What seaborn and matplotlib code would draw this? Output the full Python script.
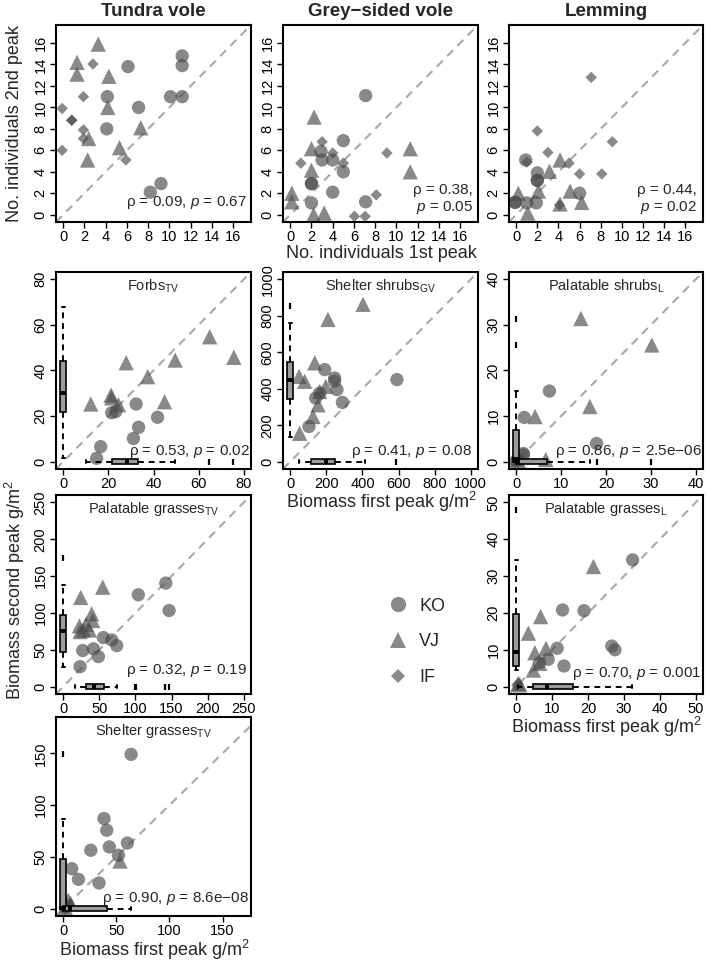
import numpy as np
import pandas as pd
import matplotlib
matplotlib.use("Agg")
import matplotlib.pyplot as plt
import seaborn as sns
from matplotlib.lines import Line2D

sns.set_theme(style="white")
plt.rcParams["font.family"] = ["Liberation Sans", "DejaVu Sans"]
plt.rcParams["mathtext.fontset"] = "custom"
plt.rcParams["mathtext.rm"] = "Liberation Sans"
plt.rcParams["mathtext.it"] = "Liberation Sans:italic"
plt.rcParams["mathtext.bf"] = "Liberation Sans:bold"

# ---------------- data (first peak = x, second peak = y) ----------------
groups = ["KO", "VJ", "IF"]

tundra_ko_1 = [6.1, 11.2, 11.2, 4.15, 10.1, 11.2, 7.1, 4.1, 8.2, 9.2]
tundra_ko_2 = [13.8, 14.8, 13.9, 11.0, 11.0, 11.0, 10.0, 8.0, 2.1, 2.9]
tundra_vj_1 = [3.3, 1.3, 1.3, 4.3, 4.2, 7.3, 2.4, 5.3, 2.3]
tundra_vj_2 = [15.9, 14.2, 13.1, 12.9, 10.0, 8.1, 7.1, 6.25, 5.1]
tundra_if_1 = [2.8, 1.9, -0.1, 0.8, 0.8, 1.9, 1.9, -0.1, 5.9]
tundra_if_2 = [14.05, 11.0, 9.9, 8.8, 8.8, 7.9, 7.1, 6.0, 5.1]

grey_ko_1 = [7.1, 5.0, 2.9, 3.0, 4.0, 5.0, 2.0, 2.0, 4.0, 2.0, 7.1]
grey_ko_2 = [11.1, 6.9, 5.9, 5.1, 5.1, 4.0, 2.9, 2.9, 2.1, 1.1, 1.2]
grey_vj_1 = [2.25, 2.0, 2.0, 0.15, 0.15, 2.2, 3.2, 11.3, 11.3]
grey_vj_2 = [9.1, 6.15, 4.15, 2.0, 1.2, 0.0, 0.15, 6.15, 4.0]
grey_if_1 = [3.0, 4.0, 5.0, 1.0, 6.05, 7.05, 8.1, 9.1]
grey_if_2 = [6.8, 5.75, 4.8, 4.8, -0.15, -0.15, 1.85, 5.75]

lem_ko_1 = [0.9, 2.0, 2.0, 2.0, 6.0, -0.1, -0.1, 1.0, 1.9]
lem_ko_2 = [5.1, 3.9, 3.2, 3.2, 2.0, 1.15, 1.15, 1.1, 1.1]
lem_vj_1 = [4.15, 3.15, 2.1, 5.1, 6.2, 0.2, 1.1, 4.15]
lem_vj_2 = [5.1, 4.05, 2.2, 2.2, 1.15, 2.0, 0.15, 1.0]
lem_if_1 = [7.1, 2.0, 9.1, 3.0, 5.0, 1.0, 6.0, 8.1, 4.1]
lem_if_2 = [12.8, 7.8, 6.8, 5.8, 4.8, 4.9, 3.8, 3.8, 0.9]

forbs_ko_1 = [32.3, 41.8, 33.4, 31.1, 16.6, 14.8, 23.3, 21.5]
forbs_ko_2 = [25.3, 19.5, 15.1, 10.2, 6.6, 1.5, 22.0, 21.5]
forbs_vj_1 = [64.9, 27.9, 49.6, 75.6, 37.4, 21.2, 12.2, 44.9, 21.5, 24.5]
forbs_vj_2 = [54.8, 43.4, 44.6, 45.8, 37.3, 29.2, 25.3, 26.3, 28.0, 25.0]

sshrub_ko_1 = [191, 246, 246, 259, 163, 141, 289, 104, 591]
sshrub_ko_2 = [505, 459, 441, 395, 376, 349, 325, 193, 450]
sshrub_vj_1 = [403, 209, 136, 49, 80, 197, 163, 154, 126, 52]
sshrub_vj_2 = [863, 780, 542, 468, 441, 413, 385, 312, 248, 156]

pshrub_ko_1 = [7.4, 1.8, 17.9, 1.6, 1.6, 0.3, 0.0]
pshrub_ko_2 = [15.5, 9.7, 4.0, 1.8, 1.5, 0.5, 0.2]
pshrub_vj_1 = [14.4, 30.2, 16.4, 4.2, 6.6, 0.5, 0.1]
pshrub_vj_2 = [31.4, 25.6, 12.1, 9.9, 0.5, 0.2, 0.6]
pshrub_if_1 = [0.2, 0.5, 0.0]
pshrub_if_2 = [0.1, 0.3, 0.4]

pgrassTV_ko_1 = [142, 104, 146.6, 55.6, 67.2, 74.1, 41.8, 27, 48.7, 23.3]
pgrassTV_ko_2 = [140.5, 124.6, 103.3, 66.6, 63.4, 55.7, 51.2, 49, 40.7, 27.1]
pgrassTV_vj_1 = [54.7, 24.2, 39.4, 40.8, 31.6, 22.4, 36.2, 23.3, 27.9]
pgrassTV_vj_2 = [135, 121, 98.8, 89.7, 84.7, 82.4, 77, 74.7, 77]

pgrassL_ko_1 = [32.4, 12.9, 18.9, 26.6, 27.5, 11.4, 8.9, 13.3, 6.5]
pgrassL_ko_2 = [34.4, 20.8, 20.6, 11.0, 10.0, 10.4, 7.4, 5.6, 6.5]
pgrassL_vj_1 = [21.5, 6.8, 3.4, 5.2, 8.3, 6.6, 4.8, 0.6, 1.0]
pgrassL_vj_2 = [32.6, 19.0, 14.5, 9.2, 10.4, 6.3, 4.5, 0.9, 0.5]
pgrassL_if_1 = [0.2, 0.5]
pgrassL_if_2 = [0.3, 0.8]

sgrass_ko_1 = [63.9, 38.4, 41, 60.4, 43.4, 26, 52, 8, 14.3, 33.7, 2, 4]
sgrass_ko_2 = [149, 87, 75.7, 63.4, 59.6, 56.4, 51.5, 38.6, 28.3, 24.8, 1, 3]
sgrass_vj_1 = [53.5, 4.8, 7, 2]
sgrass_vj_2 = [46, 8, 5, 1]
sgrass_if_1 = [1, 3]
sgrass_if_2 = [0.5, 2]

# boxplot summaries: whisker low, q1, median, q3, whisker high ; outliers
forbs_box_x = [10.1, 21.8, 28.4, 33.3, 49.6]
forbs_out_x = [64.4, 75.3]
forbs_box_y = [1.5, 22, 30, 44, 68]
forbs_out_y = []
sshrub_box_x = [49, 113, 196, 247, 412]
sshrub_out_x = [584]
sshrub_box_y = [138, 343, 450, 545, 762]
sshrub_out_y = [854]
pshrub_box_x = [0, 0, 0.5, 6.8, 16.4]
pshrub_out_x = [17.9, 30.0]
pshrub_box_y = [0, 0, 0.5, 6.9, 15.5]
pshrub_out_y = [25.6, 31.4]
pgrassTV_box_x = [16, 31, 42, 56, 74]
pgrassTV_out_x = [99, 101, 141, 146]
pgrassTV_box_y = [27, 47, 75, 97, 138]
pgrassTV_out_y = [174]
pgrassL_box_x = [0.5, 4.8, 8.5, 15.7, 32.2]
pgrassL_out_x = []
pgrassL_box_y = [4.5, 5.5, 9.5, 19.7, 34.4]
pgrassL_out_y = [48]
sgrass_box_x = [0, 0, 6, 41, 64]
sgrass_out_x = []
sgrass_box_y = [0, 0, 1, 48, 87]
sgrass_out_y = [149]

titles = ["Tundra vole", "Grey\u2212sided vole", "Lemming"]
stats_text = {
    "tundra": "\u03c1 = 0.09, $p$ = 0.67",
    "grey": "\u03c1 = 0.38,\n$p$ = 0.05",
    "lem": "\u03c1 = 0.44,\n$p$ = 0.02",
    "forbs": "\u03c1 = 0.53, $p$ = 0.02",
    "sshrub": "\u03c1 = 0.41, $p$ = 0.08",
    "pshrub": "\u03c1 = 0.86, $p$ = 2.5e\u221206",
    "pgrassTV": "\u03c1 = 0.32, $p$ = 0.19",
    "pgrassL": "\u03c1 = 0.70, $p$ = 0.001",
    "sgrass": "\u03c1 = 0.90, $p$ = 8.6e\u221208",
}

# ---------------- layout ----------------
W, H = 709, 963
fig = plt.figure(figsize=(W / 100, H / 100), dpi=100)
cols = [(56, 195), (283, 195), (509, 194)]
rows = [(25, 222), (272, 469), (495, 694), (717, 916)]


def make_ax(r, c):
    x0, w = cols[c]
    t, b = rows[r]
    return fig.add_axes([x0 / W, 1 - b / H, w / W, (b - t) / H])


pt_col = "#4a4a4a"
marker_map = {"KO": ("o", 92), "VJ": ("^", 122), "IF": ("D", 34)}


def scatter(ax, data):
    for g, (xs, ys) in data.items():
        df = pd.DataFrame({"first": xs, "second": ys})
        m, s = marker_map[g]
        sns.scatterplot(data=df, x="first", y="second", marker=m, s=s, color=pt_col,
                        alpha=0.65, edgecolor="none", linewidth=0, ax=ax, legend=False, zorder=2)


def style(ax, lim_x, lim_y, ticks_x, ticks_y):
    px, py = 0.04 * lim_x, 0.04 * lim_y
    ax.set_xlim(-px, lim_x + px)
    ax.set_ylim(-py, lim_y + py)
    ax.axline((0, 0), slope=1, color="#a8a8a8", lw=1.5, ls=(0, (4, 3)), zorder=1)
    ax.set_xticks(ticks_x)
    ax.set_yticks(ticks_y)
    ax.set_xticklabels([str(t) for t in ticks_x], fontsize=10.5)
    ax.set_yticklabels([str(t) for t in ticks_y], fontsize=10.5, rotation=90, va="center")
    ax.tick_params(direction="out", length=4, width=1, pad=2, colors="black",
                   bottom=True, left=True)
    ax.set_xlabel("")
    ax.set_ylabel("")
    for sp in ax.spines.values():
        sp.set_color("black")
        sp.set_linewidth(1.5)
    ax.set_facecolor("white")


def draw_box(ax, st, out, orientation, width):
    d = dict(whislo=st[0], q1=st[1], med=st[2], q3=st[3], whishi=st[4], fliers=np.array(out, dtype=float))
    ax.bxp([d], positions=[0], widths=[width], orientation=orientation, patch_artist=True,
           showfliers=True, manage_ticks=False, zorder=4,
           boxprops=dict(facecolor="#9c9c9c", edgecolor="black", linewidth=1.2),
           medianprops=dict(color="black", linewidth=2.8, solid_capstyle="butt"),
           whiskerprops=dict(color="black", linestyle=(0, (3, 2.5)), linewidth=1.4),
           capprops=dict(color="black", linewidth=1.4),
           flierprops=dict(marker="|", markeredgecolor="black", markersize=5, markeredgewidth=1.6))


def boxes(ax, lim_x, lim_y, bx, ox, by, oy):
    wx = lim_x * 1.08 * 5.5 / 195
    wy = lim_y * 1.08 * 5.5 / 198
    draw_box(ax, by, oy, "vertical", wx)
    draw_box(ax, bx, ox, "horizontal", wy)


def stat(ax, key, x, y):
    ax.text(x, y, stats_text[key], transform=ax.transAxes, ha="right", va="center",
            fontsize=11, linespacing=1.2, zorder=5)


def inner_title(ax, name, sub):
    ax.text(0.5, 0.928, name + "$_{\\rm " + sub + "}$", transform=ax.transAxes,
            ha="center", va="center", fontsize=10.5, zorder=5)


cnt_ticks = list(range(0, 17, 2))

# Row 1
ax = make_ax(0, 0)
scatter(ax, {"KO": (tundra_ko_1, tundra_ko_2), "VJ": (tundra_vj_1, tundra_vj_2), "IF": (tundra_if_1, tundra_if_2)})
style(ax, 17, 17, cnt_ticks, cnt_ticks)
stat(ax, "tundra", 0.98, 0.10)

ax = make_ax(0, 1)
scatter(ax, {"KO": (grey_ko_1, grey_ko_2), "VJ": (grey_vj_1, grey_vj_2), "IF": (grey_if_1, grey_if_2)})
style(ax, 17, 17, cnt_ticks, cnt_ticks)
stat(ax, "grey", 0.975, 0.115)

ax = make_ax(0, 2)
scatter(ax, {"KO": (lem_ko_1, lem_ko_2), "VJ": (lem_vj_1, lem_vj_2), "IF": (lem_if_1, lem_if_2)})
style(ax, 17, 17, cnt_ticks, cnt_ticks)
stat(ax, "lem", 0.97, 0.115)

# Row 2
ax = make_ax(1, 0)
scatter(ax, {"KO": (forbs_ko_1, forbs_ko_2), "VJ": (forbs_vj_1, forbs_vj_2)})
style(ax, 80, 80, [0, 20, 40, 60, 80], [0, 20, 40, 60, 80])
boxes(ax, 80, 80, forbs_box_x, forbs_out_x, forbs_box_y, forbs_out_y)
stat(ax, "forbs", 0.995, 0.09)
inner_title(ax, "Forbs", "TV")

ax = make_ax(1, 1)
scatter(ax, {"KO": (sshrub_ko_1, sshrub_ko_2), "VJ": (sshrub_vj_1, sshrub_vj_2)})
style(ax, 1000, 1000, list(range(0, 1001, 200)), list(range(0, 1001, 200)))
boxes(ax, 1000, 1000, sshrub_box_x, sshrub_out_x, sshrub_box_y, sshrub_out_y)
stat(ax, "sshrub", 0.97, 0.09)
inner_title(ax, "Shelter shrubs", "GV")

ax = make_ax(1, 2)
scatter(ax, {"KO": (pshrub_ko_1, pshrub_ko_2), "VJ": (pshrub_vj_1, pshrub_vj_2), "IF": (pshrub_if_1, pshrub_if_2)})
style(ax, 40, 40, [0, 10, 20, 30, 40], [0, 10, 20, 30, 40])
boxes(ax, 40, 40, pshrub_box_x, pshrub_out_x, pshrub_box_y, pshrub_out_y)
stat(ax, "pshrub", 0.995, 0.09)
inner_title(ax, "Palatable shrubs", "L")

# Row 3
ax = make_ax(2, 0)
scatter(ax, {"KO": (pgrassTV_ko_1, pgrassTV_ko_2), "VJ": (pgrassTV_vj_1, pgrassTV_vj_2)})
style(ax, 250, 250, list(range(0, 251, 50)), list(range(0, 251, 50)))
boxes(ax, 250, 250, pgrassTV_box_x, pgrassTV_out_x, pgrassTV_box_y, pgrassTV_out_y)
stat(ax, "pgrassTV", 0.98, 0.12)
inner_title(ax, "Palatable grasses", "TV")

ax = make_ax(2, 2)
scatter(ax, {"KO": (pgrassL_ko_1, pgrassL_ko_2), "VJ": (pgrassL_vj_1, pgrassL_vj_2), "IF": (pgrassL_if_1, pgrassL_if_2)})
style(ax, 50, 50, list(range(0, 51, 10)), list(range(0, 51, 10)))
boxes(ax, 50, 50, pgrassL_box_x, pgrassL_out_x, pgrassL_box_y, pgrassL_out_y)
stat(ax, "pgrassL", 0.99, 0.105)
inner_title(ax, "Palatable grasses", "L")

# Row 4
ax = make_ax(3, 0)
scatter(ax, {"KO": (sgrass_ko_1, sgrass_ko_2), "VJ": (sgrass_vj_1, sgrass_vj_2), "IF": (sgrass_if_1, sgrass_if_2)})
style(ax, 170, 178, [0, 50, 100, 150], [0, 50, 100, 150])
boxes(ax, 170, 178, sgrass_box_x, sgrass_out_x, sgrass_box_y, sgrass_out_y)
stat(ax, "sgrass", 0.99, 0.09)
inner_title(ax, "Shelter grasses", "TV")

# Legend in the empty cell (row 3, col 2)
handles = [
    Line2D([], [], marker="o", ls="none", color=pt_col, alpha=0.65, markersize=11, markeredgewidth=0),
    Line2D([], [], marker="^", ls="none", color=pt_col, alpha=0.65, markersize=12, markeredgewidth=0),
    Line2D([], [], marker="D", ls="none", color=pt_col, alpha=0.65, markersize=7, markeredgewidth=0),
]
fig.legend(handles, groups, loc="center", bbox_to_anchor=(416 / W, 1 - 642 / H), frameon=False,
           fontsize=13, labelspacing=1.05, handletextpad=0.6, handlelength=1.2)

# Column titles
for c, t in enumerate(titles):
    x0, w = cols[c]
    fig.text((x0 + w / 2) / W, 1 - 12 / H, t, ha="center", va="center", fontsize=13.5, fontweight="bold")

# Axis labels
fig.text(15 / W, 1 - 123.5 / H, "No. individuals 2nd peak", rotation=90, ha="center", va="center", fontsize=13)
fig.text(381 / W, 1 - 254 / H, "No. individuals 1st peak", ha="center", va="center", fontsize=13)
fig.text(15 / W, 1 - 590 / H, "Biomass second peak g/m$^2$", rotation=90, ha="center", va="center", fontsize=13)
fig.text(381 / W, 1 - 502 / H, "Biomass first peak g/m$^2$", ha="center", va="center", fontsize=13)
fig.text(606 / W, 1 - 727 / H, "Biomass first peak g/m$^2$", ha="center", va="center", fontsize=13)
fig.text(154 / W, 1 - 950 / H, "Biomass first peak g/m$^2$", ha="center", va="center", fontsize=13)

fig.savefig("out.png", dpi=100, facecolor="white")
